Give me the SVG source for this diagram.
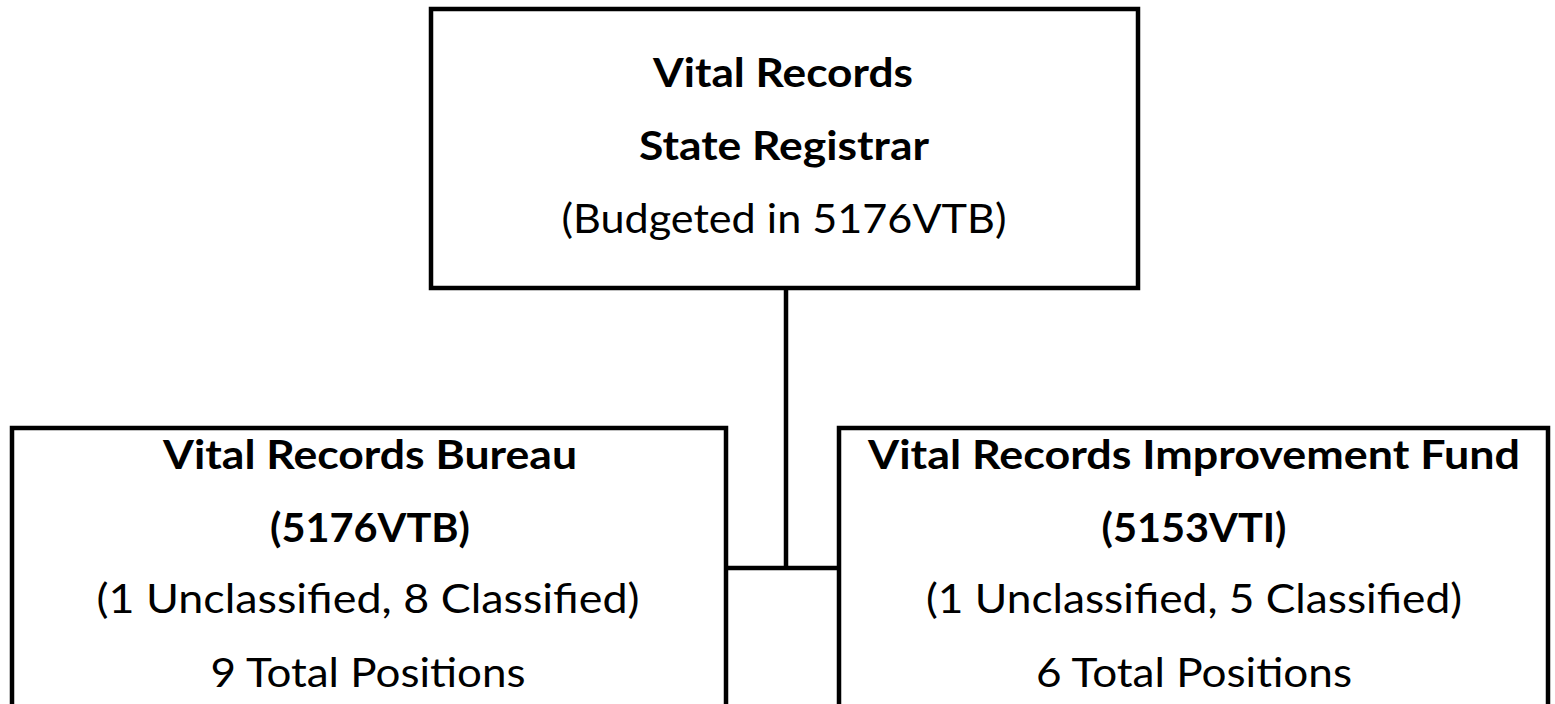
<svg xmlns="http://www.w3.org/2000/svg" width="1555" height="704" viewBox="0 0 1555 704">
  <style>
    .box { fill: #ffffff; stroke: #000000; stroke-width: 4.5; }
    .wire { fill: none; stroke: #000000; stroke-width: 4.5; }
    text { font-family: Lato, "Open Sans", "Liberation Sans", sans-serif; font-size: 40px; fill: #000000; text-anchor: middle; }
    .b { font-weight: bold; }
  </style>
  <rect width="1555" height="704" fill="#ffffff"/>

  <!-- connectors -->
  <g id="connectors">
    <line class="wire" x1="786" y1="288" x2="786" y2="570"/>
    <line class="wire" x1="726" y1="568" x2="839" y2="568"/>
  </g>

  <!-- top node -->
  <g id="registrar">
    <rect class="box" x="431" y="9" width="707" height="279"/>
    <text class="b" x="783" y="87" textLength="260" lengthAdjust="spacingAndGlyphs">Vital Records</text>
    <text class="b" x="784" y="160" textLength="290" lengthAdjust="spacingAndGlyphs">State Registrar</text>
    <text x="784" y="233" textLength="445" lengthAdjust="spacingAndGlyphs">(Budgeted in 5176VTB)</text>
  </g>

  <!-- left child -->
  <g id="bureau">
    <rect class="box" x="12" y="428" width="714" height="290"/>
    <text class="b" x="370" y="469" textLength="414" lengthAdjust="spacingAndGlyphs">Vital Records Bureau</text>
    <text class="b" x="370" y="542" textLength="200" lengthAdjust="spacingAndGlyphs">(5176VTB)</text>
    <text x="368" y="613" textLength="543" lengthAdjust="spacingAndGlyphs">(1 Unclassified, 8 Classified)</text>
    <text x="368" y="687" textLength="315" lengthAdjust="spacingAndGlyphs">9 Total Positions</text>
  </g>

  <!-- right child -->
  <g id="improvement-fund">
    <rect class="box" x="839" y="428" width="709" height="290"/>
    <text class="b" x="1194" y="469" textLength="652" lengthAdjust="spacingAndGlyphs">Vital Records Improvement Fund</text>
    <text class="b" x="1194" y="542" textLength="185" lengthAdjust="spacingAndGlyphs">(5153VTI)</text>
    <text x="1194" y="613" textLength="536" lengthAdjust="spacingAndGlyphs">(1 Unclassified, 5 Classified)</text>
    <text x="1194" y="687" textLength="316" lengthAdjust="spacingAndGlyphs">6 Total Positions</text>
  </g>
</svg>
